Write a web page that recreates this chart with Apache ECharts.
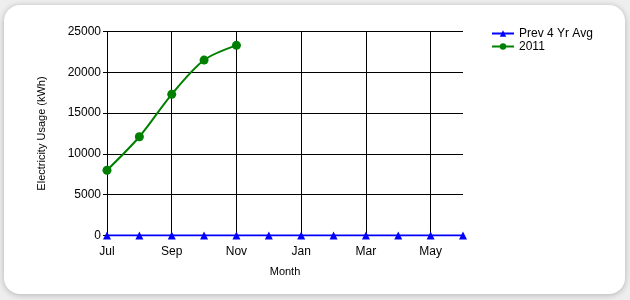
<!DOCTYPE html>
<html><head><meta charset="utf-8">
<script src="https://cdn.jsdelivr.net/npm/echarts@6/dist/echarts.min.js"></script>
<style>html,body{margin:0;padding:0;background:#eeeeee;}#c{width:630px;height:300px;}</style>
</head><body><div id="c"></div>
<script>
const months = ['Jul','Aug','Sep','Oct','Nov','Dec','Jan','Feb','Mar','Apr','May','Jun'];
const prevAvg = [0,0,0,0,0,0,0,0,0,0,0,0];
const usage2011 = [8000,12100,17300,21500,23300];
const yTicks = {min:0, max:25000, interval:5000};
const FONT = 'Liberation Sans';
const chart = echarts.init(document.getElementById('c'));
chart.setOption({
  animation:false,
  backgroundColor:'#eeeeee',
  textStyle:{fontFamily:FONT},
  graphic:[{type:'rect',z:-10,silent:true,shape:{x:4,y:5,width:621,height:289,r:16},
    style:{fill:'#ffffff',shadowBlur:6,shadowColor:'rgba(0,0,0,0.25)',shadowOffsetY:1}}],
  grid:{left:107,right:167,top:31.5,bottom:64.5,containLabel:false},
  legend:{orient:'vertical',left:491,top:27,padding:0,itemWidth:22,itemHeight:8,itemGap:0,
    textStyle:{fontFamily:FONT,fontSize:12,color:'#000',lineHeight:13},
    data:['Prev 4 Yr Avg','2011']},
  xAxis:{type:'category',data:months,boundaryGap:false,
    name:'Month',nameLocation:'middle',nameGap:31,
    nameTextStyle:{fontFamily:FONT,fontSize:11,color:'#000'},
    axisLine:{lineStyle:{color:'#000',width:1}},
    axisTick:{show:false},
    axisLabel:{interval:1,color:'#000',fontSize:12,margin:10,fontFamily:FONT},
    splitLine:{show:true,interval:1,lineStyle:{color:'#000',width:1}}},
  yAxis:{type:'value',min:yTicks.min,max:yTicks.max,interval:yTicks.interval,
    name:'Electricity Usage (kWh)',nameLocation:'middle',nameGap:60,
    nameTextStyle:{fontFamily:FONT,fontSize:11,color:'#000'},
    axisLine:{show:true,lineStyle:{color:'#000',width:1}},
    axisTick:{show:true,length:4,lineStyle:{color:'#000'}},
    axisLabel:{color:'#000',fontSize:12,margin:6,fontFamily:FONT,formatter:function(v){return String(v);}},
    splitLine:{show:true,lineStyle:{color:'#000',width:1}}},
  series:[
    {name:'Prev 4 Yr Avg',type:'line',data:prevAvg,color:'#0000ff',
      symbol:'triangle',symbolSize:8,showAllSymbol:true,
      lineStyle:{width:2,color:'#0000ff'},itemStyle:{color:'#0000ff'},z:5},
    {name:'2011',type:'line',data:usage2011,color:'#008000',smooth:0.3,
      symbol:'circle',symbolSize:9,showAllSymbol:true,
      lineStyle:{width:2,color:'#008000'},itemStyle:{color:'#008000'},z:6}
  ]
});
</script></body></html>
